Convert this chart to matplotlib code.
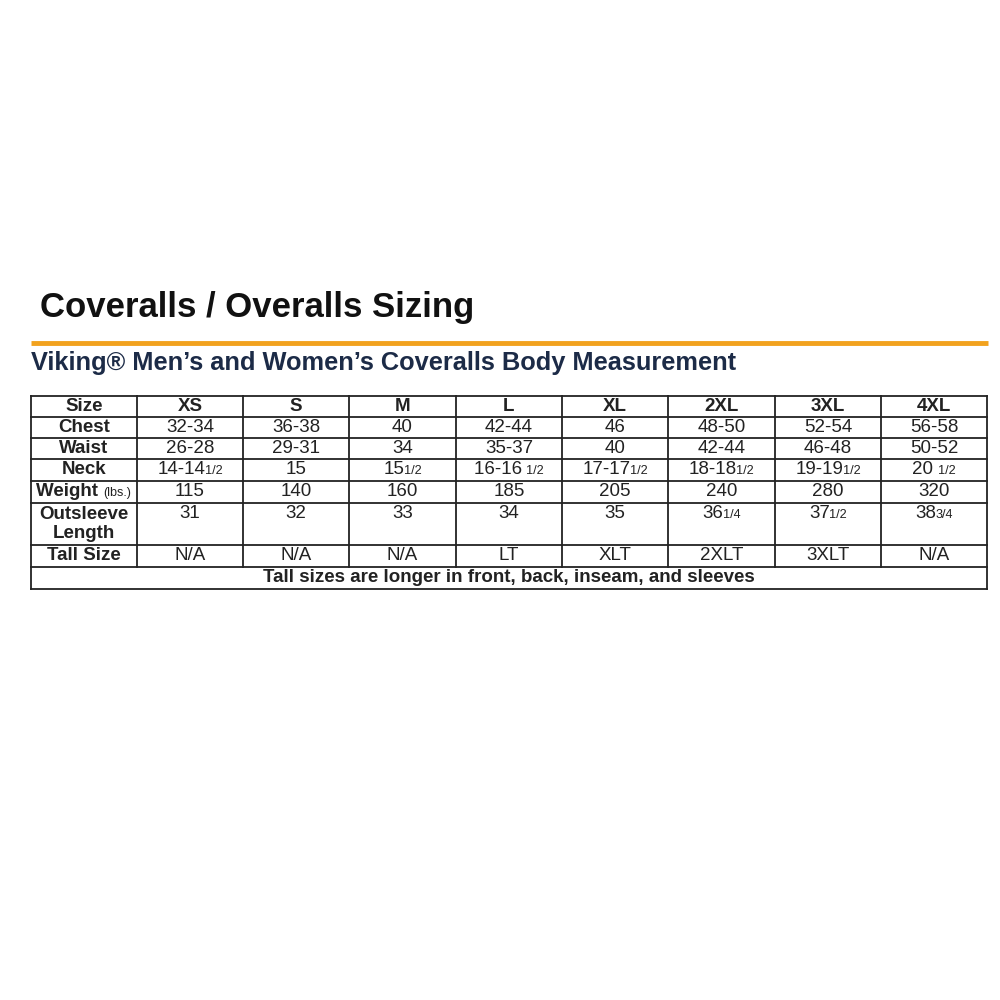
import matplotlib
matplotlib.use("Agg")
import matplotlib.pyplot as plt

title = "Coveralls / Overalls Sizing"
subtitle = "Viking® Men’s and Women’s Coveralls Body Measurement"
sizes = ["XS", "S", "M", "L", "XL", "2XL", "3XL", "4XL"]
row_labels = ["Chest", "Waist", "Neck", "Weight", "Outsleeve\nLength", "Tall Size"]
chest = ["32-34", "36-38", "40", "42-44", "46", "48-50", "52-54", "56-58"]
waist = ["26-28", "29-31", "34", "35-37", "40", "42-44", "46-48", "50-52"]
neck = ["14-14|1/2", "15", "15|1/2", "16-16 |1/2", "17-17|1/2", "18-18|1/2", "19-19|1/2", "20 |1/2"]
weight = ["115", "140", "160", "185", "205", "240", "280", "320"]
outsleeve = ["31", "32", "33", "34", "35", "36|1/4", "37|1/2", "38|3/4"]
tall = ["N/A", "N/A", "N/A", "LT", "XLT", "2XLT", "3XLT", "N/A"]
footnote = "Tall sizes are longer in front, back, inseam, and sleeves"

FONT = "Liberation Sans"
FS = 13.5
fig = plt.figure(figsize=(10, 10), dpi=100)
ax = fig.add_axes([0, 0, 1, 1])
ax.set_xlim(0, 1000); ax.set_ylim(1000, 0); ax.axis("off")
fig.canvas.draw()
r = fig.canvas.get_renderer()

ax.text(40, 307, title, fontsize=25, fontweight="bold", family=FONT, va="center", color="#111111")
ax.plot([31, 988], [343, 343], color="#f2a21e", lw=3.5, solid_capstyle="butt")
ax.text(31, 363, subtitle, fontsize=18.3, fontweight="bold", family=FONT, va="center", color="#1c2b47")

xs = [31, 137, 243, 349, 456, 562, 668, 775, 881, 987]
ys = [396, 417, 438, 459, 481, 503, 545, 567, 589]
lw = 1.3
for y in ys:
    ax.plot([xs[0], xs[-1]], [y, y], color="#222", lw=lw)
for i, x in enumerate(xs):
    ybot = ys[-1] if i in (0, len(xs) - 1) else ys[-2]
    ax.plot([x, x], [ys[0], ybot], color="#222", lw=lw)

def px_w(t):
    return t.get_window_extent(renderer=r).width

def cell(xc, yc, s, bold=False, fs=FS):
    w = "bold" if bold else "normal"
    if "|" in s:
        main, frac = s.split("|")
        t1 = ax.text(0, yc, main, fontsize=fs, fontweight=w, family=FONT, va="center", ha="left", color="#222")
        t2 = ax.text(0, yc + 1.5, frac, fontsize=fs * 0.68, fontweight=w, family=FONT, va="center", ha="left", color="#222")
        w1, w2 = px_w(t1) - 1, px_w(t2)
        x0 = xc - (w1 + w2) / 2
        t1.set_x(x0); t2.set_x(x0 + w1)
    else:
        ax.text(xc, yc, s, fontsize=fs, fontweight=w, family=FONT, va="center", ha="center", color="#222")

cell((xs[0] + xs[1]) / 2, (ys[0] + ys[1]) / 2, "Size", bold=True)
for j, s in enumerate(sizes):
    cell((xs[j + 1] + xs[j + 2]) / 2, (ys[0] + ys[1]) / 2, s, bold=True)

rows = [chest, waist, neck, weight, outsleeve, tall]
for i, (lab, vals) in enumerate(zip(row_labels, rows)):
    y0, y1 = ys[i + 1], ys[i + 2]
    yc = (y0 + y1) / 2
    ytop = y0 + 11
    xc0 = (xs[0] + xs[1]) / 2
    if lab == "Weight":
        t1 = ax.text(0, yc, "Weight ", fontsize=FS, fontweight="bold", family=FONT, va="center", color="#222")
        t2 = ax.text(0, yc + 1, "(lbs.)", fontsize=9, family=FONT, va="center", color="#222")
        w1, w2 = px_w(t1), px_w(t2)
        x0 = xc0 - (w1 + w2) / 2
        t1.set_x(x0); t2.set_x(x0 + w1)
    elif "\n" in lab:
        ax.text(xc0, yc, lab, fontsize=FS, fontweight="bold", family=FONT, va="center", ha="center",
                color="#222", linespacing=1.15)
    else:
        cell(xc0, yc, lab, bold=True)
    for j, v in enumerate(vals):
        cell((xs[j + 1] + xs[j + 2]) / 2, ytop if "\n" in lab else yc, v)

ax.text((xs[0] + xs[-1]) / 2, (ys[-2] + ys[-1]) / 2, footnote, fontsize=FS, fontweight="bold",
        family=FONT, va="center", ha="center", color="#222")

fig.savefig("out.png", dpi=100)
